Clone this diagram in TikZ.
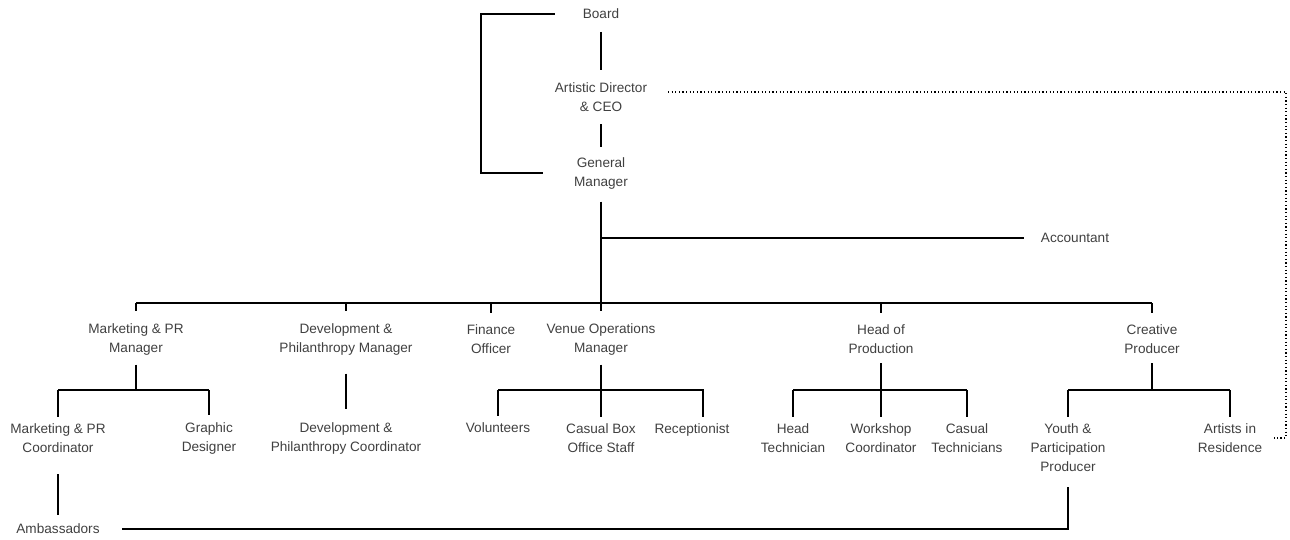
\documentclass[tikz,border=0pt]{standalone}
\usepackage{fontspec}
\setmainfont{Liberation Sans}
\usetikzlibrary{positioning}

\begin{document}
\begin{tikzpicture}[x=0.5pt,y=-0.5pt,line width=0.9pt,
		role/.style={align=center, inner sep=0pt, text=black!75, font=\fontsize{6.8}{9.5}\selectfont},
		gap/.style={shorten <=6pt, shorten >=6pt},
		boss/.style={shorten <=4.5pt},
		kid/.style={shorten >=3pt},
		dots/.style={line width=0.7pt, dash pattern=on 0.6pt off 1.2pt}]
		\useasboundingbox (0,0) rectangle (1290,540);

		\draw (601,14) node [role] (board) {Board};
		\draw (601,97) node [role] (ad) {Artistic Director\\\& CEO};
		\draw (601,173) node [role] (gm) {General\\Manager};
		\draw (1075,238) node [role] (acct) {Accountant};

		\draw (136,339) node [role] (mpr) {Marketing \& PR\\Manager};
		\draw (346,339) node [role] (dpm) {Development \&\\Philanthropy Manager};
		\draw (491,339) node [role] (fin) {Finance\\Officer};
		\draw (601,339) node [role] (vom) {Venue Operations\\Manager};
		\draw (881,339) node [role] (hop) {Head of\\Production};
		\draw (1152,339) node [role] (cp) {Creative\\Producer};

		\draw (58,438) node [role] (mprc) {Marketing \& PR\\Coordinator};
		\draw (209,438) node [role] (gd) {Graphic\\Designer};
		\draw (346,438) node [role] (dpc) {Development \&\\Philanthropy Coordinator};
		\draw (498,428) node [role] (vol) {Volunteers};
		\draw (601,438) node [role] (cbo) {Casual Box\\Office Staff};
		\draw (692,430) node [role] (rec) {Receptionist};
		\draw (793,438) node [role] (ht) {Head\\Technician};
		\draw (881,438) node [role] (wc) {Workshop\\Coordinator};
		\draw (967,438) node [role] (ct) {Casual\\Technicians};
		\draw (1068,448) node [role] (ypp) {Youth \&\\Participation\\Producer};
		\draw (1230,438) node [role] (air) {Artists in\\Residence};
		\draw (58,529) node [role] (amb) {Ambassadors};

		\coordinate (bus) at (0,303);
		\coordinate (sub) at (0,390);
		\coordinate (edge) at (1286,0);

		% top of the chart
		\draw 
		(board) edge[gap] (ad)
		(ad) edge[shorten <=6pt, shorten >=4.5pt] (gm);
		\draw[shorten <=13.5pt, shorten >=15pt] (board) -- ++(-120,0) |- (gm);
		\draw[shorten <=6pt, shorten >=5.5pt] (gm) -- (vom);
		\draw[shorten >=8pt] (gm |- acct) -- (acct);
		\draw[dots, shorten <=10pt, shorten >=5.5pt] ([yshift=2.5pt]ad.east) -- ([yshift=2.5pt]ad.east -| edge) |- (air);

		% managers
		\draw (mpr |- bus) -- (cp |- bus);
		\foreach \n in {mpr,dpm,fin,hop,cp}
			\draw[shorten >=5.5pt] (\n |- bus) -- (\n);

		% teams
		\draw[boss] (mpr) -- (mpr |- sub);
		\draw (mprc |- sub) -- (gd |- sub);
		\draw[shorten <=9pt, shorten >=6pt] (dpm) -- (dpc);
		\draw[boss,kid] (vom) -- (cbo);
		\draw[kid] (vol |- sub) -- ([xshift=5.5pt]rec |- sub) -- ([xshift=5.5pt]rec.north);
		\draw[boss,kid] (hop) -- (wc);
		\draw (ht |- sub) -- (ct |- sub);
		\draw[boss] (cp) -- (cp |- sub);
		\draw (ypp |- sub) -- (air |- sub);
		\foreach \n in {mprc,gd,vol,ht,ct,ypp,air}
			\draw[kid] (\n |- sub) -- (\n);

		\draw[shorten <=10.5pt, shorten >=4pt] (mprc) -- (amb);
		\draw[shorten <=11pt, shorten >=7pt] (amb) -| (ypp);
	\end{tikzpicture}
\end{document}
